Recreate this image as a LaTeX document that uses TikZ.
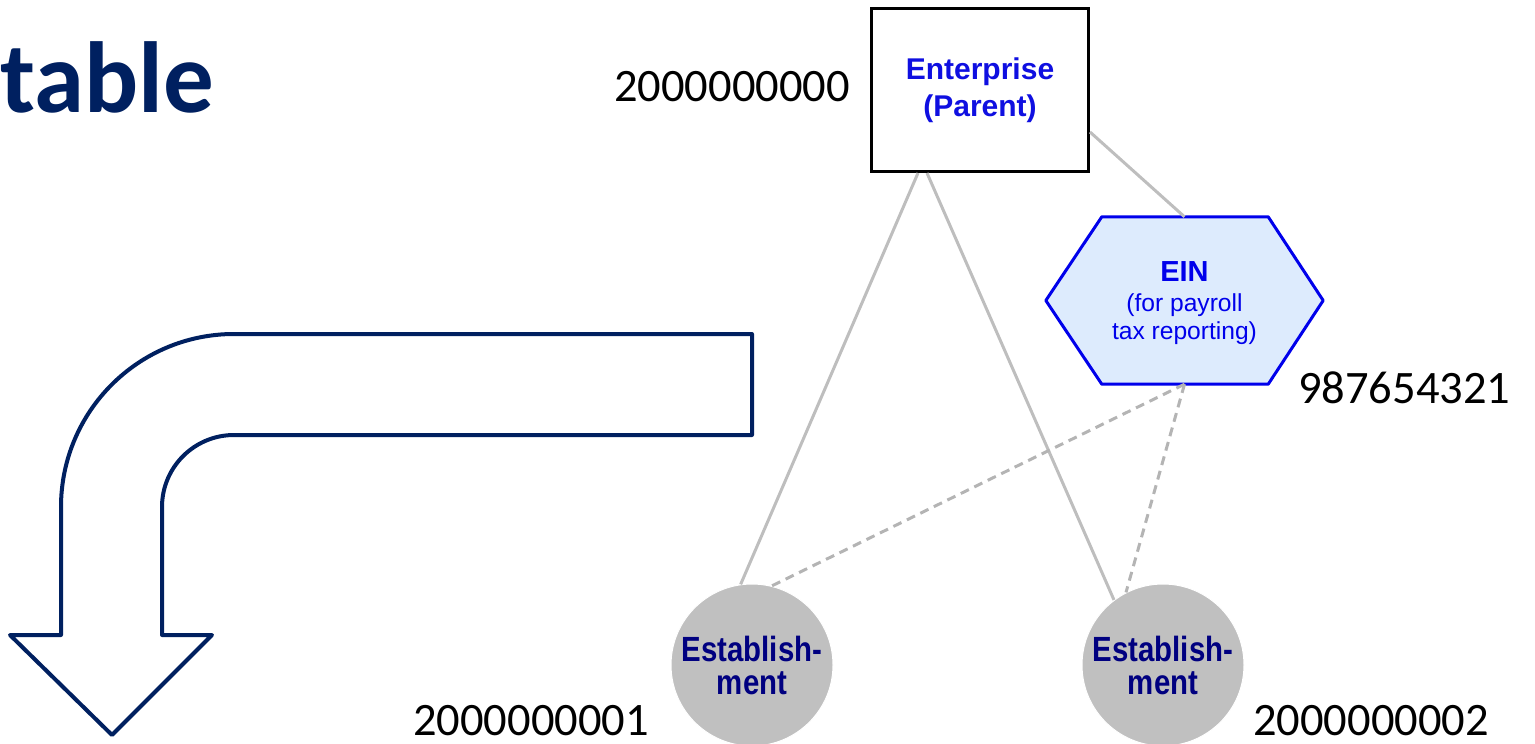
\documentclass[tikz,border=0pt]{standalone}
\usepackage{fontspec}
\setmainfont{Carlito}
\newfontfamily\arialfont{Liberation Sans}
\newfontfamily\estfont[FakeStretch=0.84]{Liberation Sans}
\definecolor{titlenavy}{HTML}{002060}
\definecolor{entblue}{RGB}{15,15,225}
\definecolor{einblue}{RGB}{0,0,235}
\definecolor{einfill}{RGB}{221,235,253}
\definecolor{estgray}{RGB}{192,192,192}
\definecolor{estnavy}{RGB}{0,0,128}
\definecolor{linkgray}{RGB}{190,190,190}
\definecolor{dashgray}{RGB}{180,180,180}

\begin{document}
\begin{tikzpicture}[x=1pt, y=-1pt,
    entbox/.style={draw=black, line width=3pt, fill=white, minimum width=217pt,
      minimum height=163pt, inner sep=0pt, align=center, text=entblue,
      font=\arialfont\bfseries\fontsize{30}{37}\selectfont},
    eintext/.style={inner sep=0pt, align=center, text=einblue,
      font=\arialfont\fontsize{24.6}{28}\selectfont},
    estnode/.style={circle, fill=estgray, draw=white, line width=1pt,
      minimum size=162pt, inner sep=0pt, align=center, text=estnavy,
      font=\estfont\bfseries\fontsize{35}{33}\selectfont},
    idnum/.style={inner sep=0pt, font=\fontsize{46.5}{50}\selectfont},
    link/.style={draw=linkgray, line width=3pt},
    einlink/.style={draw=dashgray, line width=3pt, dash pattern=on 9pt off 6pt}]
    \useasboundingbox (0,0) rectangle (1535,744);

    % Title
    \node[anchor=base west, inner sep=0pt, text=titlenavy,
      font=\bfseries\fontsize{101}{101}\selectfont] (title) at (0,112) {table};

    % Bent arrow
    \draw[titlenavy, line width=4pt, fill=white, line join=round]
      (112,735) -- (212,635) -- (162,635) -- (162,507)
      arc (180:90:72pt) -- (752,435) -- (752,334) -- (234,334)
      arc (90:180:173pt) -- (61,635) -- (10,635) -- cycle;

    % Enterprise
    \node[entbox] (ent) at (980,90) {Enterprise\\(Parent)};
    \node[idnum, anchor=base east] (entid) at (850,101) {2000000000};

    % EIN hexagon
    \node[minimum width=277pt, minimum height=167pt, inner sep=0pt] (ein) at (1184.5,300.5) {};
    \draw[einblue, line width=3pt, fill=einfill, line join=round]
      (ein.west) -- ([xshift=56pt]ein.north west) -- ([xshift=-55pt]ein.north east)
      -- (ein.east) -- ([xshift=-55pt]ein.south east) -- ([xshift=56pt]ein.south west) -- cycle;
    \node[eintext, yshift=-2.5pt] (eintxt) at (ein.center)
      {\textbf{\fontsize{29}{28}\selectfont EIN}\\[2pt](for payroll\\tax reporting)};
    \node[idnum, anchor=base west] (einid) at (1298,403) {987654321};

    % Establishments
    \node[estnode] (est1) at (752,665) {Establish-\\ment};
    \node[estnode] (est2) at (1163,665) {Establish-\\ment};
    \node[idnum, anchor=base west] (est1id) at (413,735) {2000000001};
    \node[idnum, anchor=base west] (est2id) at (1253,735) {2000000002};

    % Links
    \draw[link] ([xshift=-62pt]ent.south) -- (est1.98);
    \draw[link] ([xshift=-53pt]ent.south) -- (est2.127);
    \draw[link] ([yshift=-42pt]ent.east) -- (ein.north);
    \draw[einlink] (ein.south) -- (est1.76);
    \draw[einlink] (ein.south) -- (est2.117);
\end{tikzpicture}
\end{document}
